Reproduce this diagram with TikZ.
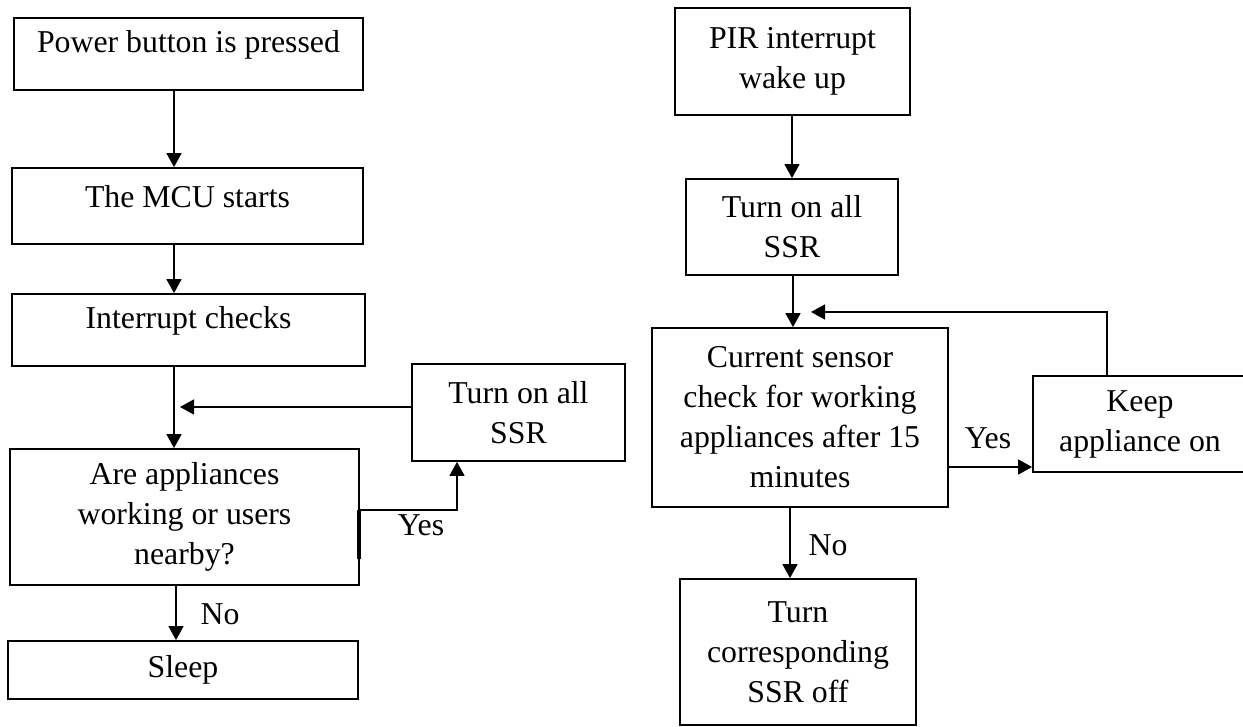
\documentclass[tikz,border=0pt]{standalone}
\usepackage{fontspec}
\setmainfont{Liberation Serif}
\usetikzlibrary{arrows.meta}
\newcommand\liftup[1]{\raisebox{4.5pt}[\height][\depth]{#1}}
\begin{document}
\begin{tikzpicture}[x=0.5pt,y=-0.5pt,
  box/.style={draw, line width=0.9pt, inner sep=0pt, align=center,
              font=\fontsize{15.9pt}{20pt}\selectfont},
  arr/.style={line width=0.8pt, -{Triangle[length=7pt,width=7.5pt]}},
  lbl/.style={font=\fontsize{15.9pt}{20pt}\selectfont, inner sep=0pt}]
\useasboundingbox (0,0) rectangle (1243,727);

% left column
\node[box, minimum width=174.5pt, minimum height=36pt] (b1) at (188.5,54) {\liftup{Power button is pressed}};
\node[box, minimum width=175.5pt, minimum height=38pt] (b2) at (187.5,206) {\liftup{The MCU starts}};
\node[box, minimum width=176.5pt, minimum height=36pt] (b3) at (188.5,330) {\liftup{Interrupt checks}};
\node[box, minimum width=174.5pt, minimum height=68pt] (b4) at (184.5,517) {Are appliances\\working or users\\nearby?};
\node[box, minimum width=175pt, minimum height=29pt] (b5) at (183,670) {Sleep};
\node[box, minimum width=106.5pt, minimum height=48.5pt] (s1) at (518.5,412.5) {Turn on all\\SSR};

\coordinate (ax) at (174,0);
\coordinate (sx) at (176,0);
\coordinate (j1) at (180,407);
\coordinate (yc) at (457,510);

\draw[arr] (b1.south -| ax) -- (b2.north -| ax);
\draw[arr] (b2.south -| ax) -- (b3.north -| ax);
\draw[arr] (b3.south -| ax) -- (b4.north -| ax);
\draw[arr] (s1.west |- j1) -- (j1);
\draw[arr] (b4.east |- yc) -- (yc) -- (s1.south -| yc);
\draw[line width=1.6pt] (359,510) -- (359,559);
\draw[arr] (b4.south -| sx) -- (b5.north -| sx);
\node[lbl] (yes1) at (421,525) {Yes};
\node[lbl] (no1) at (220,614) {No};

% right column
\node[box, minimum width=117.5pt, minimum height=53.5pt] (r1) at (792.5,61.5) {PIR interrupt\\wake up};
\node[box, minimum width=106pt, minimum height=48pt] (r2) at (792,227) {Turn on all\\SSR};
\node[box, minimum width=148pt, minimum height=89.5pt] (r3) at (800,417.5) {Current sensor\\check for working\\appliances after 15\\minutes};
\node[box, minimum width=107pt, minimum height=48pt] (r4) at (1140,424) {Keep\\appliance on};
\node[box, minimum width=118pt, minimum height=73pt] (r5) at (798,652) {Turn\\corresponding\\SSR off};

\coordinate (rx) at (792,0);
\coordinate (rx2) at (793,0);
\coordinate (fb) at (1107,312);
\coordinate (ft) at (811,312);
\coordinate (yr) at (0,467);
\coordinate (nx) at (790,0);

\draw[arr] (r1.south -| rx) -- (r2.north -| rx);
\draw[arr] (r2.south -| rx2) -- (r3.north -| rx2);
\draw[arr] (r4.north -| fb) -- (fb) -- (ft);
\draw[arr] (r3.east |- yr) -- (r4.west |- yr);
\draw[arr] (r3.south -| nx) -- (r5.north -| nx);
\node[lbl] (yes2) at (988,438) {Yes};
\node[lbl] (no2) at (828,545) {No};
\end{tikzpicture}
\end{document}
